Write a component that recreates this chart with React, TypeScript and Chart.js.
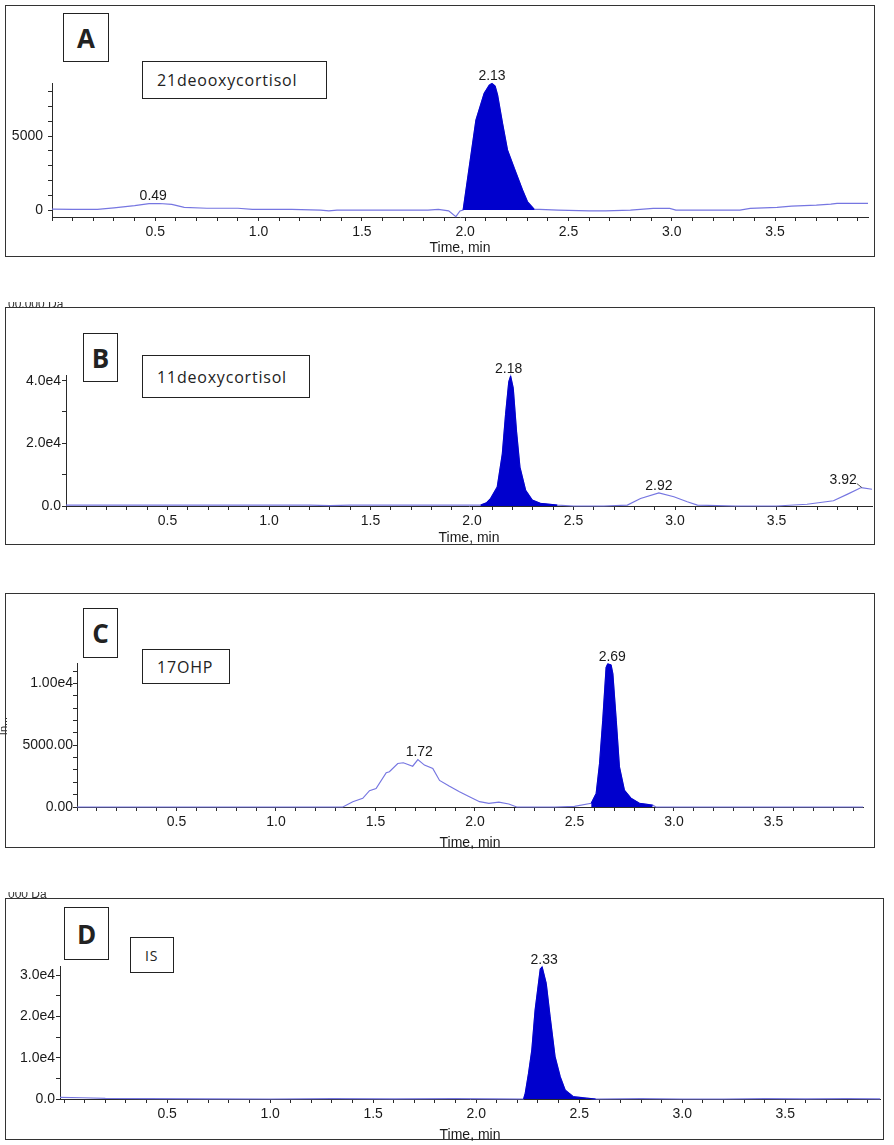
import React, { useEffect, useRef } from 'react';
import { Chart, registerables } from 'chart.js';

Chart.register(...registerables);

// ---------------- DATA ----------------
// Panel A – 21deooxycortisol
const aTime = [0.00, 0.10, 0.22, 0.30, 0.40, 0.47, 0.52, 0.58, 0.64, 0.75,
  0.90, 0.97, 1.16, 1.30, 1.34, 1.38, 1.60, 1.82, 1.87, 1.92,
  1.955, 1.975, 1.99, 2.052, 2.092, 2.117, 2.13, 2.145, 2.157, 2.181,
  2.205, 2.238, 2.278, 2.302, 2.335, 2.36, 2.45, 2.60, 2.68, 2.80,
  2.91, 2.99, 3.02, 3.20, 3.33, 3.38, 3.51, 3.58, 3.70, 3.77,
  3.80, 3.95];
const aSignal = [60, 50, 50, 150, 300, 430, 440, 380, 180, 120,
  120, 50, 50, 0, -50, 0, 0, 0, 50, -50,
  -450, -60, 0, 6080, 7890, 8450, 8550, 8380, 7770, 5860,
  4060, 2820, 1350, 560, 50, 50, 0, -50, -50, 0,
  110, 110, 0, 0, 0, 110, 180, 270, 330, 400,
  450, 450];
const aFillWindow = [1.985, 2.34];
const aPeakTimes = [0.49, 2.13];
const aPeakHeights = [440, 8550];
const aYRange = [-470, 8580];
const aYStep = 1000;
const aYTickValues = [0, 5000];
const aYTickLabels = ['0', '5000'];
const aXRange = [0, 3.95];
const aName = '21deooxycortisol';

// Panel B – 11deoxycortisol
const bTime = [0.00, 0.30, 0.60, 0.90, 1.20, 1.30, 1.40, 1.70, 1.95, 2.042,
  2.07, 2.091, 2.124, 2.149, 2.165, 2.181, 2.19, 2.203, 2.219, 2.236,
  2.264, 2.297, 2.337, 2.42, 2.50, 2.65, 2.765, 2.83, 2.92, 2.994,
  3.06, 3.11, 3.30, 3.50, 3.65, 3.78, 3.85, 3.917, 3.97];
const bSignal = [300, 250, 300, 250, 300, 100, 300, 250, 300, 300,
  1000, 2400, 6090, 16600, 29200, 39700, 41500, 37600, 23900, 12400,
  5040, 1890, 850, 300, 0, 0, 300, 2400, 4200, 2940,
  1370, 300, 0, 0, 550, 1680, 3780, 5880, 5350];
const bFillWindow = [2.03, 2.45];
const bPeakTimes = [2.18, 2.92, 3.92];
const bPeakHeights = [41500, 4200, 5880];
const bYRange = [0, 41800];
const bYStep = 10000;
const bYTickValues = [0, 20000, 40000];
const bYTickLabels = ['0.0', '2.0e4', '4.0e4'];
const bXRange = [0, 3.97];
const bName = '11deoxycortisol';

// Panel C – 17OHP
const cTime = [0.00, 0.40, 0.80, 1.20, 1.336, 1.386, 1.436, 1.47, 1.503, 1.554,
  1.57, 1.612, 1.64, 1.687, 1.713, 1.746, 1.788, 1.822, 1.87, 1.922,
  1.972, 2.023, 2.07, 2.12, 2.17, 2.21, 2.40, 2.50, 2.584, 2.609,
  2.626, 2.642, 2.659, 2.667, 2.684, 2.693, 2.71, 2.726, 2.751, 2.785,
  2.827, 2.893, 2.91, 3.20, 3.60, 3.95];
const cSignal = [0, 0, 0, 0, 0, 430, 700, 1320, 1500, 2770,
  2850, 3520, 3580, 3300, 3840, 3390, 3120, 2150, 1700, 1240,
  830, 430, 300, 400, 240, 0, 0, 50, 300, 1100,
  3520, 7010, 11300, 11580, 11500, 10780, 7010, 3250, 1370, 700,
  300, 150, 0, 0, 0, 0];
const cFillWindow = [2.58, 2.90];
const cPeakTimes = [1.72, 2.69];
const cPeakHeights = [3840, 11580];
const cYRange = [0, 11650];
const cYStep = 1000;
const cYTickValues = [0, 5000, 10000];
const cYTickLabels = ['0.00', '5000.00', '1.00e4'];
const cXRange = [0, 3.95];
const cName = '17OHP';

// Panel D – IS
const dTime = [-0.02, 0.09, 0.20, 0.40, 0.70, 1.00, 1.30, 1.60, 1.90, 2.10,
  2.23, 2.238, 2.254, 2.27, 2.286, 2.311, 2.32, 2.34, 2.359, 2.383,
  2.408, 2.432, 2.472, 2.537, 2.58, 2.80, 3.00, 3.20, 3.40, 3.60,
  3.80, 3.96];
const dSignal = [410, 300, 150, 100, 50, 0, 100, 50, 100, 50,
  0, 1380, 6220, 11860, 21540, 31500, 32000, 28000, 19900, 10240,
  5400, 2180, 560, 200, 0, 100, 0, 0, 100, 50,
  100, 50];
const dFillWindow = [2.225, 2.58];
const dPeakTimes = [2.33];
const dPeakHeights = [32000];
const dYRange = [0, 32200];
const dYStep = 5000;
const dYTickValues = [0, 10000, 20000, 30000];
const dYTickLabels = ['0.0', '1.0e4', '2.0e4', '3.0e4'];
const dXRange = [-0.02, 3.96];
const dName = 'IS';

const xStep = 0.1;
const xTickValues = [0.5, 1.0, 1.5, 2.0, 2.5, 3.0, 3.5];
const xTickLabels = ['0.5', '1.0', '1.5', '2.0', '2.5', '3.0', '3.5'];
const xAxisTitle = 'Time, min';
const panelLetters = ['A', 'B', 'C', 'D'];

// ---------------- STYLE / LAYOUT ----------------
const FONT = '"Liberation Sans", Arial, sans-serif';
const BOX_FONT = '"Open Sans", "Noto Sans", sans-serif';
const FILL_COLOR = 'rgb(0,0,205)';
const LINE_COLOR = 'rgb(118,118,225)';
const AXIS = '#2a2a2a';
const TEXT = '#1a1a1a';

type Spec = {
  letter: string; name: string;
  time: number[]; signal: number[]; fillWindow: number[];
  peakTimes: number[]; peakHeights: number[];
  yRange: number[]; yStep: number; yTickValues: number[]; yTickLabels: string[];
  xRange: number[];
  frame: number[]; plot: number[]; titleY: number; yPad: number;
  letterBox: number[]; nameBox: number[];
};

const specs: Spec[] = [
  {
    letter: panelLetters[0], name: aName, time: aTime, signal: aSignal, fillWindow: aFillWindow,
    peakTimes: aPeakTimes, peakHeights: aPeakHeights, yRange: aYRange, yStep: aYStep,
    yTickValues: aYTickValues, yTickLabels: aYTickLabels, xRange: aXRange,
    frame: [5, 5, 875, 257], plot: [52, 83, 868, 217], titleY: 248, yPad: 5,
    letterBox: [63, 13, 46, 49], nameBox: [142, 61, 185, 38],
  },
  {
    letter: panelLetters[1], name: bName, time: bTime, signal: bSignal, fillWindow: bFillWindow,
    peakTimes: bPeakTimes, peakHeights: bPeakHeights, yRange: bYRange, yStep: bYStep,
    yTickValues: bYTickValues, yTickLabels: bYTickLabels, xRange: bXRange,
    frame: [5, 307, 875, 545], plot: [66, 375, 872, 506], titleY: 538, yPad: 1,
    letterBox: [83, 333, 35, 49], nameBox: [142, 355, 168, 43],
  },
  {
    letter: panelLetters[2], name: cName, time: cTime, signal: cSignal, fillWindow: cFillWindow,
    peakTimes: cPeakTimes, peakHeights: cPeakHeights, yRange: cYRange, yStep: cYStep,
    yTickValues: cYTickValues, yTickLabels: cYTickLabels, xRange: cXRange,
    frame: [5, 593, 875, 848], plot: [77, 663, 863, 807], titleY: 843, yPad: 0,
    letterBox: [83, 608, 35, 50], nameBox: [142, 649, 88, 35],
  },
  {
    letter: panelLetters[3], name: dName, time: dTime, signal: dSignal, fillWindow: dFillWindow,
    peakTimes: dPeakTimes, peakHeights: dPeakHeights, yRange: dYRange, yStep: dYStep,
    yTickValues: dYTickValues, yTickLabels: dYTickLabels, xRange: dXRange,
    frame: [5, 898, 884, 1140], plot: [60, 966, 880, 1099], titleY: 1135, yPad: 1,
    letterBox: [64, 907, 45, 53], nameBox: [130, 937, 44, 36],
  },
];

const peakLabelPlugin = {
  id: 'peakLabels',
  afterDatasetsDraw(chart: any, _args: any, opts: any) {
    const { ctx, chartArea, scales } = chart;
    const xs = scales.x;
    const ys = scales.y;
    ctx.save();
    ctx.font = `14px ${FONT}`;
    ctx.fillStyle = TEXT;
    ctx.textBaseline = 'bottom';
    ctx.textAlign = 'center';
    (opts.times as number[]).forEach((t, i) => {
      const px = xs.getPixelForValue(t);
      const py = ys.getPixelForValue(opts.heights[i]) - 1;
      const text = t.toFixed(2);
      const w = ctx.measureText(text).width;
      let cx = px;
      if (px + w / 2 > chartArea.right) {
        cx = px - w / 2 - 5;
        ctx.strokeStyle = '#555';
        ctx.lineWidth = 1;
        ctx.beginPath();
        ctx.moveTo(cx + w / 2, py - 3);
        ctx.lineTo(px, py + 1);
        ctx.stroke();
      }
      ctx.fillText(text, cx, py + 1);
    });
    ctx.restore();
  },
};

function labelFor(v: number, vals: number[], labels: string[], tol: number) {
  const i = vals.findIndex((q) => Math.abs(q - v) < tol);
  return i >= 0 ? labels[i] : '';
}

// tick positions: every multiple of `step` inside [min, max]
function stepTicks(min: number, max: number, step: number) {
  const out: { value: number }[] = [];
  const first = Math.ceil(min / step - 1e-9);
  const last = Math.floor(max / step + 1e-9);
  for (let k = first; k <= last; k++) out.push({ value: Math.round(k * step * 1e6) / 1e6 });
  return out;
}

function buildConfig(s: Spec): any {
  const [fl, ft, fr, fb] = s.frame;
  const [pl, pt, pr, pb] = s.plot;
  const canvasBottom = fb + 4;
  const trace = s.time.map((t, i) => ({ x: t, y: s.signal[i] }));
  const peak = trace.filter((p) => p.x >= s.fillWindow[0] && p.x <= s.fillWindow[1]);
  const tickFont = { family: FONT, size: 14 };
  return {
    type: 'line',
    data: {
      datasets: [
        { data: peak, borderColor: FILL_COLOR, backgroundColor: FILL_COLOR, borderWidth: 1, fill: 'origin', pointRadius: 0, tension: 0, clip: 4 },
        { data: trace, borderColor: LINE_COLOR, borderWidth: 1.2, fill: false, pointRadius: 0, tension: 0, clip: 4 },
      ],
    },
    options: {
      animation: false,
      responsive: true,
      maintainAspectRatio: false,
      events: [],
      layout: { padding: { top: pt - ft, right: fr - pr, left: 0, bottom: 0 } },
      plugins: {
        legend: { display: false },
        tooltip: { enabled: false },
        peakLabels: { times: s.peakTimes, heights: s.peakHeights },
      },
      scales: {
        x: {
          type: 'linear',
          min: s.xRange[0],
          max: s.xRange[1],
          afterBuildTicks: (sc: any) => { sc.ticks = stepTicks(s.xRange[0], s.xRange[1], xStep); },
          afterFit: (sc: any) => { sc.height = canvasBottom - pb; },
          border: { display: true, color: AXIS, width: 1 },
          grid: { display: true, drawOnChartArea: false, drawTicks: true, tickLength: 4, color: AXIS },
          ticks: {
            autoSkip: false, maxRotation: 0, minRotation: 0,
            padding: 3, color: TEXT, font: tickFont,
            callback: (v: any) => labelFor(Number(v), xTickValues, xTickLabels, 1e-6),
          },
          title: {
            display: true, text: xAxisTitle, color: TEXT, font: tickFont,
            padding: { top: 0, bottom: canvasBottom - 8.4 - s.titleY },
          },
        },
        y: {
          type: 'linear',
          min: s.yRange[0],
          max: s.yRange[1],
          afterBuildTicks: (sc: any) => { sc.ticks = stepTicks(s.yRange[0], s.yRange[1], s.yStep); },
          afterFit: (sc: any) => { sc.width = pl - fl; },
          border: { display: true, color: AXIS, width: 1 },
          grid: { display: true, drawOnChartArea: false, drawTicks: true, tickLength: 4, color: AXIS },
          ticks: {
            autoSkip: false,
            padding: s.yPad, color: TEXT, font: tickFont,
            callback: (v: any) => labelFor(Number(v), s.yTickValues, s.yTickLabels, 1),
          },
        },
      },
    },
    plugins: [peakLabelPlugin],
  };
}

function Panel({ spec }: { spec: Spec }) {
  const ref = useRef<HTMLCanvasElement>(null);
  useEffect(() => {
    const chart = new Chart(ref.current as HTMLCanvasElement, buildConfig(spec));
    return () => chart.destroy();
  }, [spec]);
  const [fl, ft, fr, fb] = spec.frame;
  const [lx, ly, lw, lh] = spec.letterBox;
  const [nx, ny, nw, nh] = spec.nameBox;
  const boxBase: React.CSSProperties = {
    position: 'absolute', boxSizing: 'border-box', border: '1.5px solid #222',
    background: '#fff', display: 'flex', alignItems: 'center', color: '#222',
  };
  return (
    <>
      <div style={{ position: 'absolute', left: fl, top: ft, width: fr - fl, height: fb - ft, boxSizing: 'border-box', border: '1.5px solid #333' }} />
      <div style={{ position: 'absolute', left: fl, top: ft, width: fr - fl, height: fb + 4 - ft }}>
        <canvas ref={ref} />
      </div>
      <div style={{ ...boxBase, left: lx, top: ly, width: lw, height: lh, justifyContent: 'center', fontFamily: BOX_FONT, fontWeight: 700, fontSize: 26 }}>
        {spec.letter}
      </div>
      <div style={{ ...boxBase, left: nx, top: ny, width: nw, height: nh, paddingLeft: 14, fontFamily: BOX_FONT, fontSize: spec.name.length > 3 ? 16 : 14, letterSpacing: 0.8 }}>
        {spec.name}
      </div>
    </>
  );
}

function ClippedText({ left, top, text }: { left: number; top: number; text: string }) {
  return (
    <div style={{ position: 'absolute', left, top, height: 8, width: 80, overflow: 'hidden' }}>
      <div style={{ position: 'absolute', left: 0, top: -4, fontFamily: FONT, fontSize: 12, lineHeight: '12px', color: '#333', whiteSpace: 'nowrap' }}>{text}</div>
    </div>
  );
}

export default function App() {
  return (
    <div style={{ position: 'absolute', left: 0, top: 0, width: 894, height: 1145, background: '#fff', overflow: 'hidden' }}>
      {specs.map((s) => <Panel key={s.letter} spec={s} />)}
      <ClippedText left={8} top={302} text="00.000 Da" />
      <ClippedText left={8} top={892} text="000 Da" />
      <div style={{ position: 'absolute', left: -6, top: 720, transform: 'rotate(-90deg)', fontFamily: FONT, fontSize: 11, color: '#333' }}>In...</div>
    </div>
  );
}
